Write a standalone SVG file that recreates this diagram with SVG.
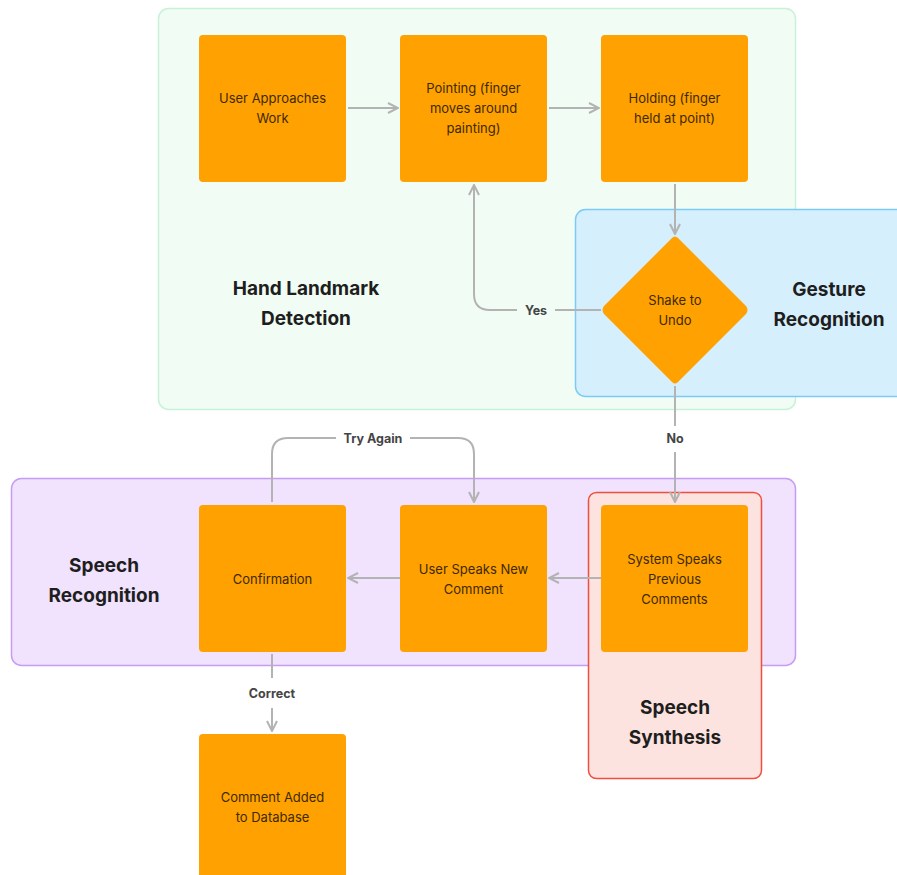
<svg xmlns="http://www.w3.org/2000/svg" width="897" height="875" viewBox="0 0 897 875">
<style>
.grp-label{font-family:Inter,"Liberation Sans",sans-serif;font-size:19px;font-weight:700;fill:#1e1e1e;text-anchor:middle}
.node{fill:#ffa100}
.ntext{font-family:Inter,"Liberation Sans",sans-serif;font-size:13px;fill:#3d2a00;text-anchor:middle}
.conn{fill:none;stroke:#b3b3b3;stroke-width:2}
.elabel{font-family:Inter,"Liberation Sans",sans-serif;font-size:12.5px;font-weight:700;fill:#444;text-anchor:middle}
</style>
<defs>
<marker id="arr" viewBox="0 0 12 12" refX="11" refY="6" markerWidth="12" markerHeight="12" markerUnits="userSpaceOnUse" orient="auto">
<path d="M1 1 L11 6 L1 11" fill="none" stroke="#b3b3b3" stroke-width="2"/>
</marker>
</defs>
<rect width="897" height="875" fill="#ffffff"/>
<g id="group-hand">
<rect x="158.5" y="8.5" width="637" height="401" rx="10" fill="#f0fcf4" stroke="#c8f1d8" stroke-width="1.5"/>
<text class="grp-label" x="306" y="295">Hand Landmark</text>
<text class="grp-label" x="306" y="325">Detection</text>
</g>
<g id="group-gesture">
<rect x="575.5" y="209.5" width="330" height="187" rx="10" fill="#d6effd" stroke="#7ccbf7" stroke-width="1.5"/>
<text class="grp-label" x="829" y="296">Gesture</text>
<text class="grp-label" x="829" y="326">Recognition</text>
</g>
<g id="group-speech-rec">
<rect x="11.5" y="478.5" width="784" height="187" rx="10" fill="#f1e2fd" stroke="#c89cf4" stroke-width="1.5"/>
<text class="grp-label" x="104" y="572">Speech</text>
<text class="grp-label" x="104" y="602">Recognition</text>
</g>
<g id="group-speech-syn">
<rect x="588.5" y="492.5" width="173" height="286" rx="8" fill="#fde3df" stroke="#f24e3d" stroke-width="1.5"/>
<text class="grp-label" x="675" y="714">Speech</text>
<text class="grp-label" x="675" y="744">Synthesis</text>
</g>
<g id="connectors">
<path class="conn" d="M348 108 H398" marker-end="url(#arr)"/>
<path class="conn" d="M549 108 H599" marker-end="url(#arr)"/>
<path class="conn" d="M675 184 V234" marker-end="url(#arr)"/>
<path class="conn" d="M601 310 H555 M517 310 H490 Q474 310 474 294 V185" marker-end="url(#arr)"/>
<path class="conn" d="M675 386 V426 M675 452 V502" marker-end="url(#arr)"/>
<path class="conn" d="M601 578 H549" marker-end="url(#arr)"/>
<path class="conn" d="M400 578 H348" marker-end="url(#arr)"/>
<path class="conn" d="M272 502 V454 Q272 438 288 438 H336 M410 438 H458 Q474 438 474 454 V502" marker-end="url(#arr)"/>
<path class="conn" d="M272 654 V678 M272 708 V731" marker-end="url(#arr)"/>
<text class="elabel" x="536" y="315">Yes</text>
<text class="elabel" x="675" y="443">No</text>
<text class="elabel" x="373" y="443">Try Again</text>
<text class="elabel" x="272" y="698">Correct</text>
</g>
<g id="node-approach">
<rect class="node" x="199" y="35" width="147" height="147" rx="4"/>
<text class="ntext" x="272.5" y="103">User Approaches</text>
<text class="ntext" x="272.5" y="123">Work</text>
</g>
<g id="node-pointing">
<rect class="node" x="400" y="35" width="147" height="147" rx="4"/>
<text class="ntext" x="473.5" y="93">Pointing (finger</text>
<text class="ntext" x="473.5" y="113">moves around</text>
<text class="ntext" x="473.5" y="133">painting)</text>
</g>
<g id="node-holding">
<rect class="node" x="601" y="35" width="147" height="147" rx="4"/>
<text class="ntext" x="674.5" y="103">Holding (finger</text>
<text class="ntext" x="674.5" y="123">held at point)</text>
</g>
<g id="node-shake">
<path class="node" d="M672 238 Q675 235 678 238 L746 306 Q749 310 746 314 L678 382 Q675 385 672 382 L604 314 Q601 310 604 306 Z"/>
<text class="ntext" x="675" y="305">Shake to</text>
<text class="ntext" x="675" y="325">Undo</text>
</g>
<g id="node-system">
<rect class="node" x="601" y="505" width="147" height="147" rx="4"/>
<text class="ntext" x="674.5" y="564">System Speaks</text>
<text class="ntext" x="674.5" y="584">Previous</text>
<text class="ntext" x="674.5" y="604">Comments</text>
</g>
<g id="node-user-speaks">
<rect class="node" x="400" y="505" width="147" height="147" rx="4"/>
<text class="ntext" x="473.5" y="574">User Speaks New</text>
<text class="ntext" x="473.5" y="594">Comment</text>
</g>
<g id="node-confirmation">
<rect class="node" x="199" y="505" width="147" height="147" rx="4"/>
<text class="ntext" x="272.5" y="584">Confirmation</text>
</g>
<g id="node-added">
<rect class="node" x="199" y="734" width="147" height="147" rx="4"/>
<text class="ntext" x="272.5" y="802">Comment Added</text>
<text class="ntext" x="272.5" y="822">to Database</text>
</g>
</svg>
